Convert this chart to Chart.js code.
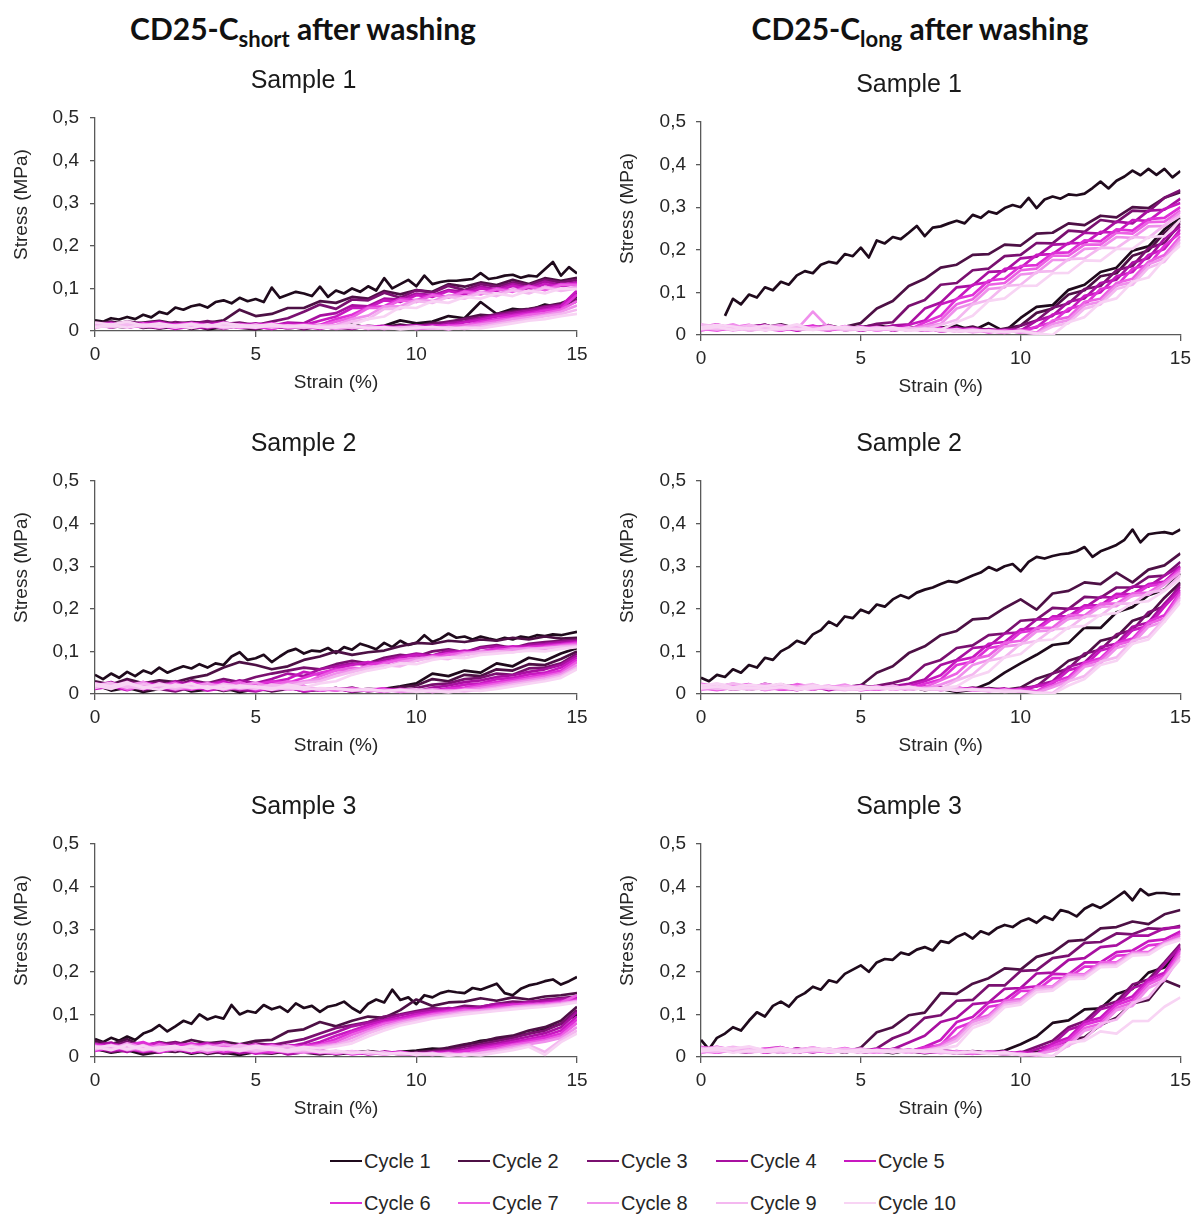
<!DOCTYPE html>
<html>
<head>
<meta charset="utf-8">
<script src="https://cdn.jsdelivr.net/npm/chart.js@4.4.0/dist/chart.umd.min.js"></script>
<style>
  body { margin: 0; background: #fff; }
  #page { position: relative; width: 1197px; height: 1214px; overflow: hidden; font-family: "Liberation Sans", Arial, sans-serif; }
  .head { position: absolute; top: 10px; transform: translateX(-50%); font-family: Lato, "Open Sans", sans-serif; font-weight: 700; font-size: 30px; color: #111; white-space: nowrap; }
  .head sub { font-size: 22px; vertical-align: -7px; line-height: 0; }
  .panel { position: absolute; }
  .key { position: absolute; display: flex; align-items: center; height: 24px; font-size: 20px; color: #262626; white-space: nowrap; }
  .key span { display: inline-block; width: 32px; height: 2.5px; margin-right: 2px; }
</style>
</head>
<body>
<div id="page">
  <div class="head" style="left:303px">CD25-C<sub>short</sub> after washing</div>
  <div class="head" style="left:920px">CD25-C<sub>long</sub> after washing</div>
  <canvas class="panel" id="shortS1" width="600" height="347" style="left:0;top:50px"></canvas>
  <canvas class="panel" id="longS1" width="597" height="347" style="left:600px;top:54px"></canvas>
  <canvas class="panel" id="shortS2" width="600" height="347" style="left:0;top:413px"></canvas>
  <canvas class="panel" id="longS2" width="597" height="347" style="left:600px;top:413px"></canvas>
  <canvas class="panel" id="shortS3" width="600" height="347" style="left:0;top:776px"></canvas>
  <canvas class="panel" id="longS3" width="597" height="347" style="left:600px;top:776px"></canvas>
  <div id="legend"></div>
</div>
<script>
// strain grids (%): cycle 1 loading is sampled finer than the rest
const strainFine = [0, 0.25, 0.5, 0.75, 1, 1.25, 1.5, 1.75, 2, 2.25, 2.5, 2.75, 3, 3.25, 3.5, 3.75,
  4, 4.25, 4.5, 4.75, 5, 5.25, 5.5, 5.75, 6, 6.25, 6.5, 6.75, 7, 7.25, 7.5, 7.75, 8, 8.25, 8.5, 8.75,
  9, 9.25, 9.5, 9.75, 10, 10.25, 10.5, 10.75, 11, 11.25, 11.5, 11.75, 12, 12.25, 12.5, 12.75,
  13, 13.25, 13.5, 13.75, 14, 14.25, 14.5, 14.75, 15];
const strainCoarse = [0, 0.5, 1, 1.5, 2, 2.5, 3, 3.5, 4, 4.5, 5, 5.5, 6, 6.5, 7, 7.5, 8, 8.5, 9, 9.5,
  10, 10.5, 11, 11.5, 12, 12.5, 13, 13.5, 14, 14.5, 15];

const cycleLabels = ['Cycle 1', 'Cycle 2', 'Cycle 3', 'Cycle 4', 'Cycle 5',
  'Cycle 6', 'Cycle 7', 'Cycle 8', 'Cycle 9', 'Cycle 10'];
const sampleTitles = ['Sample 1', 'Sample 2', 'Sample 3'];

// stress in kPa, one row per cycle (loading / unloading branch)
const shortS1Load = [
  [25,22,30,27,33,28,38,32,45,40,55,50,58,62,55,68,72,65,78,70,75,68,102,78,85,92,88,82,104,80,95,88,100,92,105,95,124,100,110,120,105,130,110,115,118,118,120,122,136,122,125,130,132,125,130,128,145,162,130,150,135],
  [18,22,15,20,24,17,21,19,25,50,35,40,54,54,70,66,80,76,94,86,96,92,110,104,114,108,120,110,124,118,125],
  [20,15,22,18,14,21,17,23,16,20,14,22,30,45,62,52,74,72,90,78,96,90,106,96,110,104,114,108,120,114,120],
  [15,20,13,18,22,14,19,16,21,13,18,12,20,18,36,42,60,58,76,74,88,84,96,92,104,98,110,102,116,108,115],
  [12,18,10,16,20,12,17,14,19,11,16,10,18,14,24,34,54,54,72,68,84,80,94,86,100,94,106,98,110,104,112],
  [10,16,12,18,11,15,19,12,16,10,14,18,12,16,14,28,38,56,58,76,72,86,80,94,88,100,94,106,98,110,110],
  [14,10,17,12,15,9,18,13,11,16,12,15,10,14,12,22,32,54,54,72,68,84,78,92,86,98,92,104,96,108,108],
  [8,14,11,16,10,13,17,9,14,12,10,15,11,13,9,14,28,36,58,58,74,70,84,80,92,86,98,90,104,96,104],
  [12,9,15,10,14,8,16,11,13,9,14,10,12,8,13,11,22,28,52,52,70,66,80,76,90,82,96,88,102,94,100],
  [9,13,8,14,10,12,7,15,9,11,8,13,10,12,7,11,14,28,34,56,54,70,66,80,76,88,82,95,88,100,98]
];
const shortS1Unload = [
  [20,12,8,15,6,10,14,4,9,12,5,11,7,13,12,5,15,8,12,25,18,22,35,30,68,40,52,48,62,55,70],
  [15,10,18,7,12,16,5,11,14,8,4,12,6,10,14,8,5,12,9,15,10,20,18,30,38,35,48,52,58,65,80],
  [18,8,14,11,6,16,9,12,5,13,10,7,12,4,11,8,13,6,10,8,12,16,22,28,32,40,45,50,58,62,75],
  [12,16,9,13,7,15,10,6,14,9,12,5,13,8,10,6,12,9,5,11,14,10,18,22,30,36,42,48,55,60,90],
  [14,9,16,10,13,5,11,15,8,12,6,14,9,11,5,13,7,10,12,6,9,13,12,20,26,34,38,44,50,58,95],
  [10,15,8,13,11,16,7,12,9,14,10,5,13,8,12,9,6,11,8,10,5,8,14,12,22,28,35,40,48,52,85],
  [16,11,14,9,15,8,12,10,13,7,11,14,6,12,9,10,13,5,9,7,10,6,9,14,18,25,30,38,42,50,70],
  [12,17,10,14,8,13,11,15,6,12,9,13,10,7,11,5,9,12,6,8,5,9,4,10,15,20,28,32,38,45,60],
  [18,13,20,11,16,9,14,12,17,10,15,8,13,11,9,12,7,10,5,8,11,6,9,5,10,16,22,28,35,40,50],
  [20,15,22,13,18,12,16,10,19,14,11,16,9,13,10,8,12,6,9,4,7,10,5,8,6,12,18,24,28,35,40]
];

const longS1Load = [
  [null,null,null,45,85,72,95,88,112,105,125,118,140,150,145,165,172,168,190,185,205,182,222,215,230,225,240,256,232,252,255,262,268,262,282,275,290,285,298,305,300,322,298,318,325,320,330,328,332,345,360,344,362,372,386,375,390,376,390,370,385],
  [20,14,22,12,18,25,15,21,13,19,28,62,80,115,132,158,165,188,190,212,210,238,240,262,258,280,276,300,298,322,335],
  [16,22,13,19,24,12,18,15,21,11,17,26,30,68,82,118,122,152,156,185,188,216,215,245,242,270,265,292,290,322,340],
  [13,18,22,11,16,20,14,19,12,17,15,13,22,25,62,76,112,116,148,150,180,184,212,214,240,238,266,262,292,294,320],
  [19,12,16,21,13,18,10,17,14,20,11,16,12,24,34,72,84,118,124,155,158,188,190,216,215,242,240,270,268,296,310],
  [11,17,14,20,15,10,18,13,16,12,19,14,17,11,30,45,85,94,128,132,162,164,192,194,222,220,248,245,272,275,300],
  [15,10,18,13,17,12,20,14,11,16,13,18,12,15,22,36,72,84,118,122,152,156,186,186,212,212,240,238,265,266,292],
  [12,18,11,16,14,19,13,55,16,12,17,11,15,13,20,26,62,74,108,112,142,146,176,176,202,204,230,228,255,256,288],
  [17,13,19,10,15,12,17,14,18,11,14,16,12,17,13,24,36,72,82,115,118,148,150,178,180,205,204,230,228,258,280],
  [14,19,12,17,11,16,14,12,15,19,12,15,18,11,14,12,30,45,80,86,115,116,145,146,175,174,202,202,230,232,270]
];
const longS1Unload = [
  [22,14,20,16,24,12,19,15,21,13,18,24,15,20,12,17,22,10,28,8,40,66,70,106,118,148,158,198,208,248,275],
  [18,24,13,20,15,22,11,17,23,14,19,12,21,16,10,18,13,20,8,15,22,52,62,95,105,138,145,186,198,240,268],
  [20,15,23,12,18,14,21,16,11,19,14,22,10,17,13,15,9,16,12,6,22,34,64,74,108,115,152,162,204,216,262],
  [16,22,12,19,24,13,17,20,14,18,10,16,21,12,15,11,18,7,14,10,10,34,45,78,86,122,130,170,180,226,255],
  [24,17,21,14,19,11,23,15,18,12,20,13,16,11,19,8,13,15,9,12,12,18,48,56,92,100,138,148,188,202,248],
  [19,25,15,21,13,18,16,22,12,17,14,19,11,15,12,17,10,13,6,11,6,20,30,62,70,108,115,156,164,210,240],
  [15,21,18,24,11,20,14,17,22,13,18,10,16,13,11,14,8,12,9,5,12,5,34,42,78,85,122,132,172,188,232],
  [22,16,25,13,19,23,15,18,12,21,15,17,12,18,10,13,9,14,7,10,6,4,26,35,70,78,116,124,166,180,225],
  [25,20,15,23,17,14,21,13,19,16,12,18,14,11,16,9,14,6,11,8,8,2,20,28,62,72,108,118,158,172,218],
  [18,24,20,14,22,16,25,12,20,15,18,13,16,10,14,12,8,11,9,6,10,4,0,30,42,76,86,125,135,178,210]
];

const shortS2Load = [
  [45,35,48,38,52,42,55,48,62,50,58,65,60,70,62,72,68,88,98,80,84,92,75,88,100,106,95,102,100,108,96,110,104,118,112,105,120,110,125,115,120,138,122,130,142,132,135,128,135,130,126,132,128,135,132,138,136,140,138,142,146],
  [30,22,35,25,32,28,38,45,62,75,68,58,65,80,88,100,92,98,102,112,120,118,125,122,128,125,132,128,135,130,132],
  [25,18,30,22,28,20,32,25,35,28,40,48,55,62,58,70,78,72,85,92,88,100,105,98,110,115,108,118,122,125,128],
  [20,28,15,25,18,30,22,26,20,32,25,35,48,42,58,65,72,68,80,88,95,90,102,98,108,112,105,115,118,122,125],
  [18,24,14,28,20,16,26,22,30,18,24,28,35,52,45,60,68,75,70,85,92,88,96,102,98,108,112,110,115,118,122],
  [22,15,26,18,24,12,28,20,25,16,22,30,26,38,50,58,52,68,75,82,78,90,95,92,100,106,102,110,112,116,120],
  [16,25,12,22,18,26,14,24,19,28,15,22,30,25,42,55,62,58,72,80,85,82,92,98,95,102,108,104,110,114,118],
  [24,14,20,28,12,22,18,25,14,20,26,16,24,30,35,48,56,65,62,75,82,88,85,95,100,98,104,108,106,112,115],
  [14,22,18,12,25,16,20,13,24,18,12,22,18,26,30,42,52,60,68,65,78,85,82,92,96,100,98,104,108,110,112],
  [20,12,24,16,10,22,14,18,12,20,16,10,22,15,25,30,45,55,62,72,70,80,86,84,92,95,98,102,100,106,110]
];
const shortS2Unload = [
  [22,8,15,5,12,18,6,10,14,4,12,8,16,6,10,14,5,9,12,18,25,48,42,55,50,72,65,85,78,95,108],
  [18,12,22,8,14,20,10,16,7,13,18,6,12,15,9,14,8,12,10,16,20,35,30,45,42,58,55,70,68,82,100],
  [15,20,10,18,12,6,16,11,19,8,14,10,17,7,12,9,15,6,11,8,14,22,25,35,38,48,45,60,62,72,95],
  [20,14,24,11,17,9,21,13,16,10,6,15,12,18,8,13,10,7,12,9,6,15,20,28,32,40,44,52,58,68,90],
  [12,18,9,22,15,11,19,8,14,17,12,9,16,6,11,14,8,10,5,12,9,8,14,22,25,35,38,46,50,62,85],
  [22,16,25,12,19,14,10,18,12,21,9,15,11,17,8,12,6,10,13,7,10,5,12,15,22,28,34,40,46,55,80],
  [16,24,11,20,14,18,12,22,9,16,13,19,10,14,12,8,13,9,6,11,7,10,6,12,18,24,30,36,42,50,75],
  [25,18,22,14,20,11,17,15,19,12,16,10,14,18,9,13,11,7,10,5,8,11,6,9,14,20,26,32,38,46,68],
  [20,26,15,23,18,13,21,16,12,19,14,17,11,15,10,14,8,12,6,9,11,5,8,6,10,15,22,28,34,42,62],
  [24,18,28,14,22,17,25,12,20,15,18,13,16,10,14,12,9,11,7,10,5,8,4,10,7,12,18,24,30,38,58]
];

const longS2Load = [
  [38,30,45,40,58,50,68,62,85,80,100,110,125,118,140,150,170,160,182,178,198,190,210,205,222,232,225,238,245,250,258,265,262,270,278,285,298,290,300,305,288,310,322,318,324,328,330,335,345,322,335,342,350,362,386,356,375,378,380,376,386],
  [18,12,20,10,16,22,14,19,11,17,20,50,65,96,112,138,148,175,178,202,222,198,236,242,262,258,285,262,292,302,330],
  [15,20,12,18,10,16,21,13,17,11,14,19,26,36,68,80,108,114,138,142,172,175,202,200,228,226,250,250,275,278,310],
  [12,17,10,15,19,11,14,18,9,16,12,15,18,24,34,68,80,108,112,142,145,175,175,200,202,228,226,252,252,278,300],
  [16,10,14,18,12,15,9,17,13,11,16,12,14,18,30,44,78,86,118,122,152,154,182,182,208,208,235,234,258,264,298],
  [11,15,18,12,16,10,14,19,12,15,9,13,17,12,24,34,68,76,108,114,145,150,177,176,202,204,229,230,254,258,295],
  [14,9,16,12,18,11,15,10,17,13,16,10,14,11,16,32,48,82,90,120,125,155,156,185,184,212,212,236,238,262,290],
  [10,16,13,19,9,14,17,12,15,10,13,18,11,15,12,22,36,68,80,112,116,147,150,177,180,205,206,231,233,257,285],
  [17,12,15,10,14,18,11,16,13,9,15,12,17,10,14,12,32,46,78,86,118,124,152,154,182,184,212,212,238,244,278],
  [13,18,11,15,12,16,10,14,18,12,10,15,13,16,11,14,18,40,52,86,94,125,128,157,160,186,190,214,218,242,270]
];
const longS2Unload = [
  [20,14,18,12,22,15,19,11,17,13,21,14,18,10,16,12,5,10,25,50,72,92,115,120,156,155,192,204,232,245,283],
  [16,21,13,19,15,22,12,18,14,20,11,17,13,19,9,15,12,8,14,10,15,36,48,78,90,125,134,172,184,226,262],
  [22,15,19,12,24,16,20,13,18,11,19,14,22,10,16,13,9,15,11,7,14,18,48,60,95,104,140,150,192,206,258],
  [18,23,14,20,16,12,21,17,13,19,15,11,17,14,12,16,8,12,9,13,6,20,30,64,74,110,118,158,168,212,252],
  [21,16,24,13,18,22,14,19,11,16,20,13,15,11,18,9,14,11,7,10,10,18,24,56,66,102,112,150,160,205,245],
  [14,20,17,23,12,19,15,21,13,17,12,18,10,15,13,11,16,8,12,6,12,6,28,40,74,84,120,130,170,185,240],
  [24,18,21,15,20,13,23,16,19,12,17,14,19,10,15,12,9,13,7,11,6,5,20,35,68,80,115,125,165,178,235],
  [17,22,19,14,24,17,13,20,15,22,11,16,14,18,12,10,14,8,11,6,8,3,16,30,64,72,108,118,158,170,228],
  [22,16,25,18,14,21,17,23,12,18,16,13,19,11,14,9,12,10,6,9,6,4,2,30,42,76,86,125,135,176,222],
  [19,25,15,22,18,24,13,20,16,12,18,15,11,17,10,13,8,11,9,5,7,3,0,20,35,68,78,118,128,170,215]
];

const shortS3Load = [
  [42,35,45,38,48,40,55,62,75,60,72,85,78,100,88,95,90,122,100,108,104,122,112,118,106,126,115,120,106,118,122,130,115,104,125,135,128,158,134,140,124,145,140,150,155,152,150,162,158,165,172,150,145,160,168,172,178,182,170,178,188],
  [38,30,42,25,35,28,40,32,36,30,38,40,60,65,82,72,85,95,92,110,135,120,128,130,138,132,140,135,142,145,150],
  [32,25,36,22,30,35,26,33,28,24,32,28,35,42,55,68,75,82,95,100,108,115,112,120,118,125,130,128,135,138,142],
  [28,34,20,30,25,32,22,28,34,20,26,30,24,32,45,58,72,80,88,98,105,110,115,112,118,125,122,130,132,136,140],
  [24,30,18,28,34,22,26,32,20,28,24,18,28,26,35,50,62,75,85,92,100,106,110,115,112,120,125,122,128,132,138],
  [30,22,28,35,20,26,32,24,18,30,22,28,20,26,30,42,58,70,80,88,96,102,108,112,110,118,122,125,124,130,135],
  [20,28,24,16,30,22,18,28,25,20,30,16,26,22,28,36,52,65,78,85,92,100,104,110,108,115,118,122,125,128,145],
  [26,18,32,22,25,16,28,20,30,24,18,26,22,18,26,30,45,60,72,82,90,96,102,106,110,112,118,120,122,126,132],
  [18,26,20,28,15,24,20,26,16,28,22,20,26,16,22,28,38,55,68,78,86,92,98,104,106,110,114,118,120,124,130],
  [24,16,28,18,22,26,14,24,20,18,26,22,16,24,20,25,32,48,62,74,82,90,95,100,104,108,112,115,118,122,128]
];
const shortS3Unload = [
  [20,10,16,6,12,18,8,14,10,5,12,16,8,11,14,6,10,13,8,12,15,20,18,28,38,42,48,55,65,78,100],
  [18,14,22,9,15,12,19,7,13,16,10,8,14,11,6,12,9,14,10,8,12,15,22,30,35,45,50,62,70,85,118],
  [22,12,18,15,10,20,13,17,8,14,11,16,9,13,10,7,12,8,11,6,10,13,16,24,30,38,45,55,62,78,110],
  [16,20,12,24,14,18,10,15,19,9,13,17,6,12,15,9,11,7,13,8,5,11,14,18,26,32,40,48,56,70,105],
  [24,15,20,12,18,22,11,16,13,19,8,14,12,10,16,8,13,6,10,12,7,9,12,15,22,28,35,42,50,62,95],
  [14,22,17,25,11,19,15,21,12,16,14,10,17,13,9,14,6,11,8,12,5,9,6,14,18,25,30,38,45,55,88],
  [26,18,23,14,20,16,24,10,18,13,21,15,11,16,12,8,13,10,6,10,8,5,10,6,15,20,28,34,40,50,80],
  [20,28,16,22,13,25,18,14,21,17,12,19,14,10,15,12,9,11,7,9,6,10,4,8,10,16,24,30,36,45,70],
  [25,19,29,16,23,20,14,22,17,24,15,18,12,16,13,10,14,8,11,6,9,5,8,3,9,14,20,28,12,40,62],
  [22,27,18,26,15,21,25,16,20,14,22,17,13,19,11,15,9,13,7,10,5,8,3,6,4,10,16,24,5,35,55]
];

const longS3Load = [
  [40,18,45,55,70,62,85,105,95,120,130,118,140,150,165,158,180,175,195,205,215,200,222,230,228,245,240,252,258,250,272,268,282,290,278,295,288,302,310,305,318,325,315,330,322,345,340,330,348,358,350,362,375,388,368,394,380,385,385,382,382],
  [18,12,16,20,11,15,19,13,17,10,22,58,70,98,104,150,148,172,185,208,205,235,245,272,275,302,305,318,312,335,345],
  [15,20,12,17,14,19,11,16,13,18,14,20,44,58,92,98,132,134,168,168,202,204,232,238,268,270,290,288,302,300,308],
  [12,17,14,10,18,13,16,11,19,14,12,15,18,34,50,82,92,124,128,160,162,196,198,228,232,258,262,285,285,302,305],
  [17,11,15,19,12,16,10,18,13,15,11,14,16,12,24,40,82,94,128,134,162,166,195,194,222,222,246,250,272,276,295],
  [11,16,13,18,10,15,19,12,14,17,13,11,15,13,22,28,68,82,118,124,155,156,185,186,212,212,238,240,262,266,290],
  [14,10,17,12,16,11,14,18,10,15,12,17,11,16,14,30,50,86,98,132,136,165,166,195,194,222,222,246,246,270,285],
  [10,15,12,17,13,18,11,14,16,12,15,10,13,15,11,24,44,82,94,127,132,162,164,192,192,217,219,244,244,267,280],
  [16,12,18,11,14,10,17,13,15,11,18,12,14,10,16,22,38,76,88,122,128,157,158,187,188,214,216,241,242,265,278],
  [13,17,10,15,12,16,11,18,12,14,10,16,12,15,13,19,26,68,82,117,123,152,156,183,184,211,212,238,240,263,275]
];
const longS3Unload = [
  [18,12,20,14,17,10,19,13,16,11,18,14,9,16,12,15,8,13,10,15,30,48,80,86,112,114,148,160,198,210,255],
  [15,20,12,17,14,19,11,16,13,18,10,15,12,14,9,13,11,8,12,9,7,12,16,40,46,75,92,126,134,180,165],
  [20,14,18,22,13,17,15,21,12,16,19,13,17,11,15,12,9,14,10,6,10,24,38,70,84,118,130,170,182,222,265],
  [16,22,14,19,17,12,20,15,18,13,16,11,19,14,10,16,12,8,11,13,6,18,30,64,76,112,122,162,174,218,260],
  [22,17,21,15,19,23,14,18,12,20,14,17,12,16,13,10,14,9,12,7,12,7,32,45,82,92,128,142,182,198,255],
  [18,24,16,21,13,18,16,22,14,17,12,19,15,11,17,13,9,12,8,11,8,5,26,40,76,86,122,135,175,192,250],
  [24,18,22,14,20,16,12,19,15,21,13,16,12,18,10,14,11,7,13,9,6,4,20,33,68,78,115,128,170,188,245],
  [19,23,15,21,17,22,14,18,12,16,20,14,17,11,15,9,13,10,8,12,4,6,14,26,62,72,110,120,162,180,238],
  [21,16,24,18,13,20,17,22,15,19,14,12,18,13,16,11,8,12,10,6,8,4,2,28,42,78,88,127,140,186,230],
  [17,22,19,25,15,21,14,18,20,13,17,15,11,16,12,14,10,13,7,11,5,8,0,34,38,60,55,84,85,118,140]
];

// dark plum to pale pink, cycle 1 .. cycle 10
const cycleColors = ['#1f0a1c', '#4d1045', '#7a1070', '#a810a0', '#c818c0',
  '#e030d8', '#ec60e4', '#f090ec', '#f4b8f0', '#f8d4f4'];

const FONT = '"Liberation Sans", Arial, sans-serif';
const INK = '#262626';
const AXIS = '#595959';

// padLeft + yWidth puts the plot's left edge where it belongs and keeps the
// sample title centred over the whole panel rather than the plot
const panels = [
  { id: 'shortS1', title: sampleTitles[0], load: shortS1Load, unload: shortS1Unload, padLeft: 30, yWidth: 65, padRight: 23, yTitleX: 22, tickPad: 11 },
  { id: 'longS1', title: sampleTitles[0], load: longS1Load, unload: longS1Unload, padLeft: 36, yWidth: 65, padRight: 15, yTitleX: 28, tickPad: 10 },
  { id: 'shortS2', title: sampleTitles[1], load: shortS2Load, unload: shortS2Unload, padLeft: 30, yWidth: 65, padRight: 23, yTitleX: 22, tickPad: 11 },
  { id: 'longS2', title: sampleTitles[1], load: longS2Load, unload: longS2Unload, padLeft: 36, yWidth: 65, padRight: 15, yTitleX: 28, tickPad: 10 },
  { id: 'shortS3', title: sampleTitles[2], load: shortS3Load, unload: shortS3Unload, padLeft: 30, yWidth: 65, padRight: 23, yTitleX: 22, tickPad: 11 },
  { id: 'longS3', title: sampleTitles[2], load: longS3Load, unload: longS3Unload, padLeft: 36, yWidth: 65, padRight: 15, yTitleX: 28, tickPad: 10 }
];

// kPa values on their strain grid -> {x, y} in MPa
function toPoints(vals) {
  const grid = vals.length === strainFine.length ? strainFine : strainCoarse;
  return vals.map((v, i) => ({ x: grid[i], y: v === null ? null : v / 1000 }));
}

// rotated y-axis title, sitting a bit above the plot's centre line
const stressTitle = {
  id: 'stressTitle',
  afterDraw(chart, args, opts) {
    const { ctx, chartArea } = chart;
    ctx.save();
    ctx.font = '19px ' + FONT;
    ctx.fillStyle = INK;
    ctx.textAlign = 'center';
    ctx.textBaseline = 'middle';
    ctx.translate(opts.x, (chartArea.top + chartArea.bottom) / 2 - 20);
    ctx.rotate(-Math.PI / 2);
    ctx.fillText('Stress (MPa)', 0, 0);
    ctx.restore();
  }
};

function makePanel(p) {
  const datasets = [];
  for (let c = 0; c < 10; c++) {
    [p.load[c], p.unload[c]].forEach(vals => {
      datasets.push({
        label: cycleLabels[c],
        data: toPoints(vals),
        showLine: true,
        borderColor: cycleColors[c],
        borderWidth: 2.7,
        borderJoinStyle: 'round',
        pointRadius: 0,
        order: 9 - c
      });
    });
  }

  new Chart(document.getElementById(p.id), {
    type: 'scatter',
    data: { datasets },
    options: {
      responsive: false,
      animation: false,
      events: [],
      layout: { autoPadding: false, padding: { left: p.padLeft, right: p.padRight, top: 0, bottom: 0 } },
      plugins: {
        legend: { display: false },
        tooltip: { enabled: false },
        title: {
          display: true,
          text: p.title,
          color: '#1a1a1a',
          font: { family: FONT, size: 25, weight: 'normal', lineHeight: 1.2 },
          padding: { top: 16, bottom: 22 }
        },
        stressTitle: { x: p.yTitleX }
      },
      scales: {
        x: {
          type: 'linear',
          min: 0,
          max: 15,
          afterFit(scale) { scale.height = 66; },
          ticks: { stepSize: 5, color: INK, padding: 6, font: { family: FONT, size: 19 } },
          grid: { drawOnChartArea: false, tickLength: 6, color: AXIS, lineWidth: 1.3 },
          border: { color: AXIS, width: 1.3 },
          title: {
            display: true,
            text: 'Strain (%)',
            color: INK,
            font: { family: FONT, size: 19 },
            padding: { top: 0, bottom: 3 }
          }
        },
        y: {
          min: 0,
          max: 0.5,
          afterFit(scale) { scale.width = p.yWidth; },
          ticks: {
            stepSize: 0.1,
            color: INK,
            padding: p.tickPad,
            font: { family: FONT, size: 19 },
            callback: v => v === 0 ? '0' : v.toFixed(1).replace('.', ',')
          },
          grid: { drawOnChartArea: false, tickLength: 5, color: AXIS, lineWidth: 1.3 },
          border: { color: AXIS, width: 1.3 }
        }
      }
    },
    plugins: [stressTitle]
  });
}

panels.forEach(makePanel);

// shared legend, two rows of five
const legend = document.getElementById('legend');
const keyLefts = [330, 458, 587, 716, 844];
const keyRows = [1161, 1203];
cycleLabels.forEach((label, i) => {
  const item = document.createElement('div');
  item.className = 'key';
  item.style.left = keyLefts[i % 5] + 'px';
  item.style.top = (keyRows[Math.floor(i / 5)] - 12) + 'px';
  item.innerHTML = `<span style="background:${cycleColors[i]}"></span>${label}`;
  legend.appendChild(item);
});
</script>
</body>
</html>
